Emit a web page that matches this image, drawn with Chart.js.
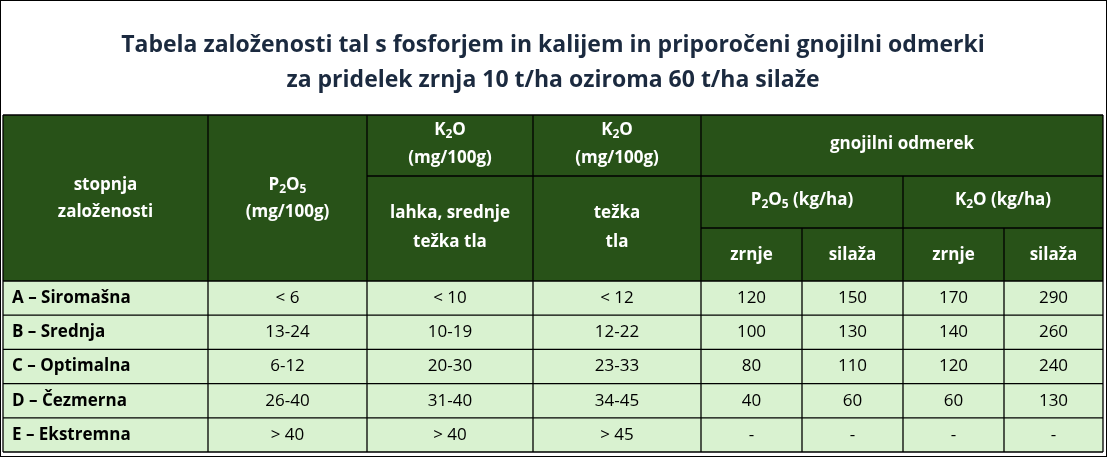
<!DOCTYPE html>
<html><head><meta charset="utf-8">
<script src="https://cdn.jsdelivr.net/npm/chart.js@4"></script>
<style>html,body{margin:0;padding:0;background:#fff}canvas{display:block}</style>
</head><body>
<canvas id="c" width="1107" height="457"></canvas>
<script>
const titleLines = ["Tabela založenosti tal s fosforjem in kalijem in priporočeni gnojilni odmerki","za pridelek zrnja 10 t/ha oziroma 60 t/ha silaže"];
const categories = ["A – Siromašna","B – Srednja","C – Optimalna","D – Čezmerna","E – Ekstremna"];
const p2o5Soil = ["< 6","13-24","6-12","26-40","> 40"];
const k2oLight = ["< 10","10-19","20-30","31-40","> 40"];
const k2oHeavy = ["< 12","12-22","23-33","34-45","> 45"];
const p2o5Grain = ["120","100","80","40","-"];
const p2o5Silage = ["150","130","110","60","-"];
const k2oGrain = ["170","140","120","60","-"];
const k2oSilage = ["290","260","240","130","-"];

// layout (scale units = px of the 1107x457 frame)
const colEdges = [3,208,367,533,701,802,903,1004,1103];
const hdrTop = 115, hdrR1 = 176, hdrR2 = 228, hdrBot = 281, rowH = 34.2;

const tablePlugin = {
  id:'table',
  afterDraw(chart){
    const ctx = chart.ctx, xs = chart.scales.x, ys = chart.scales.y;
    const X = v => xs.getPixelForValue(v), Y = v => ys.getPixelForValue(v);
    const HDR = '#285218', ROW = '#d9f2d0';
    ctx.save();
    ctx.fillStyle='#fff'; ctx.fillRect(0,0,1107,457);
    // title
    ctx.fillStyle='#1b2a3f'; ctx.font='bold 23px "Open Sans", Roboto, sans-serif';
    ctx.textAlign='center'; ctx.textBaseline='middle';
    ctx.fillText(titleLines[0], X(553), Y(45));
    ctx.fillText(titleLines[1], X(553), Y(80));
    // header bg
    ctx.fillStyle=HDR; ctx.fillRect(X(colEdges[0]),Y(hdrTop),X(colEdges[8])-X(colEdges[0]),Y(hdrBot)-Y(hdrTop));
    // rows bg
    ctx.fillStyle=ROW;
    ctx.fillRect(X(colEdges[0]),Y(hdrBot),X(colEdges[8])-X(colEdges[0]),rowH*categories.length);
    // lines
    ctx.strokeStyle='#000'; ctx.lineWidth=1.3;
    const line=(x1,y1,x2,y2)=>{ctx.beginPath();ctx.moveTo(X(x1),Y(y1));ctx.lineTo(X(x2),Y(y2));ctx.stroke();};
    const bottom = hdrBot + rowH*categories.length;
    line(colEdges[0],hdrTop,colEdges[8],hdrTop);
    line(colEdges[0],hdrBot,colEdges[8],hdrBot);
    for(let i=1;i<=categories.length;i++) line(colEdges[0],hdrBot+rowH*i,colEdges[8],hdrBot+rowH*i);
    for(let i=0;i<colEdges.length;i++){
      let top = hdrTop;
      if(i===5||i===7) top=hdrR2;
      if(i===6) top=hdrR1;
      line(colEdges[i],top,colEdges[i],bottom);
    }
    line(colEdges[2],hdrR1,colEdges[4],hdrR1);
    line(colEdges[4],hdrR1,colEdges[8],hdrR1);
    line(colEdges[4],hdrR2,colEdges[8],hdrR2);
    // rich text
    const rich=(parts,cx,cy,color,bold)=>{
      const f = (bold?'bold ':'')+'17px "Open Sans", Roboto, sans-serif';
      const fs = (bold?'bold ':'')+'12px "Open Sans", Roboto, sans-serif';
      let w=0; parts.forEach(p=>{ctx.font=p[1]?fs:f; w+=ctx.measureText(p[0]).width;});
      let x=X(cx)-w/2; ctx.textAlign='left'; ctx.fillStyle=color;
      parts.forEach(p=>{ctx.font=p[1]?fs:f; ctx.fillText(p[0],x,Y(cy)+(p[1]?5:0)); x+=ctx.measureText(p[0]).width;});
    };
    const mid=(a,b)=>(colEdges[a]+colEdges[b])/2;
    const W='#fff';
    rich([["stopnja"]],mid(0,1),185,W,true);
    rich([["založenosti"]],mid(0,1),212,W,true);
    rich([["P"],["2",1],["O"],["5",1]],mid(1,2),185,W,true);
    rich([["(mg/100g)"]],mid(1,2),212,W,true);
    [2,3].forEach(c=>{rich([["K"],["2",1],["O"]],mid(c,c+1),130,W,true);rich([["(mg/100g)"]],mid(c,c+1),158,W,true);});
    rich([["gnojilni odmerek"]],mid(4,8),144,W,true);
    rich([["lahka, srednje"]],mid(2,3),213,W,true);
    rich([["težka tla"]],mid(2,3),242,W,true);
    rich([["težka"]],mid(3,4),213,W,true);
    rich([["tla"]],mid(3,4),242,W,true);
    rich([["P"],["2",1],["O"],["5",1],[" (kg/ha)"]],mid(4,6),200,W,true);
    rich([["K"],["2",1],["O (kg/ha)"]],mid(6,8),200,W,true);
    [4,6].forEach(c=>{rich([["zrnje"]],mid(c,c+1),255,W,true);rich([["silaža"]],mid(c+1,c+2),255,W,true);});
    // data
    const cols=[p2o5Soil,k2oLight,k2oHeavy,p2o5Grain,p2o5Silage,k2oGrain,k2oSilage];
    categories.forEach((cat,r)=>{
      const cy=hdrBot+rowH*(r+0.5);
      ctx.font='bold 17px "Open Sans", Roboto, sans-serif'; ctx.fillStyle='#000'; ctx.textAlign='left';
      ctx.fillText(cat,X(12),Y(cy));
      cols.forEach((arr,c)=>rich([[arr[r]]],mid(c+1,c+2),cy,'#000',false));
    });
    // outer frame
    ctx.strokeStyle='#000'; ctx.lineWidth=1;
    ctx.strokeRect(0.5,0.5,1106,456);
    ctx.restore();
  }
};

new Chart(document.getElementById('c'),{
  type:'scatter',
  data:{datasets:[{data:[]}]},
  options:{responsive:false,animation:false,devicePixelRatio:1,
    layout:{padding:0},
    plugins:{legend:{display:false},tooltip:{enabled:false}},
    scales:{
      x:{type:'linear',min:0,max:1107,display:false},
      y:{type:'linear',min:0,max:457,reverse:true,display:false}
    }},
  plugins:[tablePlugin]
});
</script>
</body></html>
